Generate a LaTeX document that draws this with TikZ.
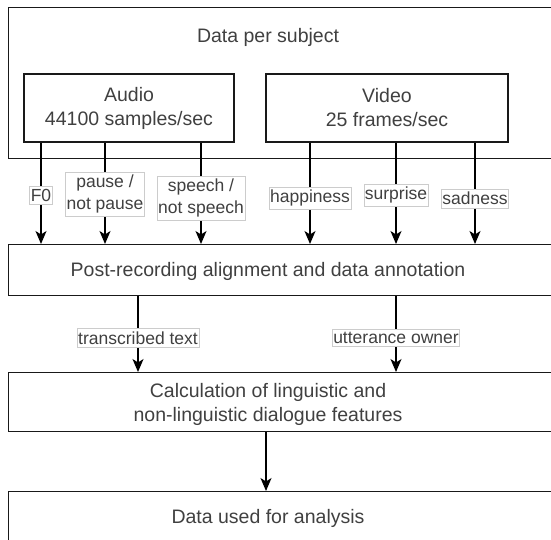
\documentclass[tikz,border=0pt]{standalone}
\usepackage{fontspec}
\setmainfont{Liberation Sans}
\usepackage{tikz}
\usetikzlibrary{arrows.meta}

\begin{document}
\begin{tikzpicture}[x=1pt,y=-1pt,line width=1.3pt,
		-{Stealth[length=13pt,width=11pt,inset=3.5pt]},
		frame/.style={draw=black!90,anchor=north west,minimum width=700pt},
		box/.style={draw=black!90,minimum height=68pt,text=black!75,
			font=\fontsize{19.5}{24}\selectfont,align=center},
		txt/.style={text=black!75,font=\fontsize{19.5}{24}\selectfont,align=center},
		lbl/.style={draw=black!20,line width=0.6pt,fill=white,text=black!75,
			inner xsep=1pt,inner ysep=3pt,font=\fontsize{17.5}{22}\selectfont,align=center}]
	\clip (0,0) rectangle (551,539);

	\node[frame,minimum height=151pt] (subject) at (8,7)   {};
	\node[frame,minimum height=51pt]  (post)    at (8,244) {};
	\node[frame,minimum height=59pt]  (calc)    at (8,372) {};
	\node[frame,minimum height=80pt]  (result)  at (8,491) {};

	\node[txt] at (268,37)  {Data per subject};
	\node[txt] at (268,271) {Post-recording alignment and data annotation};
	\node[txt] at (268,404) {Calculation of linguistic and\\non-linguistic dialogue features};
	\node[txt] at (268,518) {Data used for analysis};

	\node[box,minimum width=210pt] (audio) at (129,108) {Audio\\44100 samples/sec};
	\node[box,minimum width=242pt] (video) at (387,108) {Video\\25 frames/sec};

	\path
		(audio.south -| 41,0)  edge node[lbl,pos=.52] {F0}                     (post.north -| 41,0)
		(audio.south -| 105,0) edge node[lbl,pos=.51] {pause /\\not pause}     (post.north -| 105,0)
		(audio.south -| 201,0) edge node[lbl,pos=.55] {speech /\\not speech}   (post.north -| 201,0)
		(video.south -| 310,0) edge node[lbl,pos=.55] {happiness}              (post.north -| 310,0)
		(video.south -| 396,0) edge node[lbl,pos=.52] {surprise}               (post.north -| 396,0)
		(video.south -| 475,0) edge node[lbl,pos=.55] {sadness}                (post.north -| 475,0)
		(post.south -| 138,0)  edge node[lbl,pos=.55] {transcribed text}       (calc.north -| 138,0)
		(post.south -| 396,0)  edge node[lbl,pos=.55] {utterance owner}        (calc.north -| 396,0)
		(calc.south -| 266,0)  edge                                            (result.north -| 266,0);
\end{tikzpicture}
\end{document}
